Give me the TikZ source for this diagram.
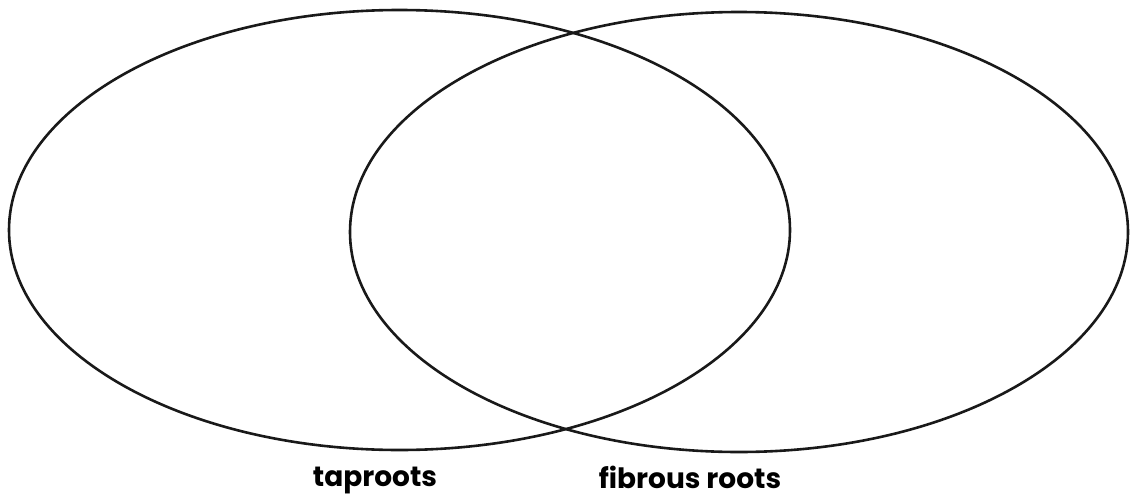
\documentclass[tikz,border=0pt]{standalone}
\usepackage{fontspec}
\usetikzlibrary{shapes.geometric}
\newfontfamily\labelfont{Poppins}[UprightFont=* Bold]
\begin{document}
\begin{tikzpicture}[x=1pt,y=-1pt,
  venn/.style={ellipse,draw=black!90,line width=2.6pt,inner sep=0pt,outer sep=0pt},
  lbl/.style={font=\labelfont\fontsize{28}{30}\selectfont,anchor=base,inner sep=0pt}]
\useasboundingbox (0,0) rectangle (1130,498);
\node[venn,minimum width=781pt,minimum height=440pt] (L) at (399.5,230) {};
\node[venn,minimum width=778pt,minimum height=440pt] (R) at (739,232) {};
\node[lbl] (tap) at (375,486) {taproots};
\node[lbl] (fib) at (690,488) {fibrous roots};
\end{tikzpicture}
\end{document}
